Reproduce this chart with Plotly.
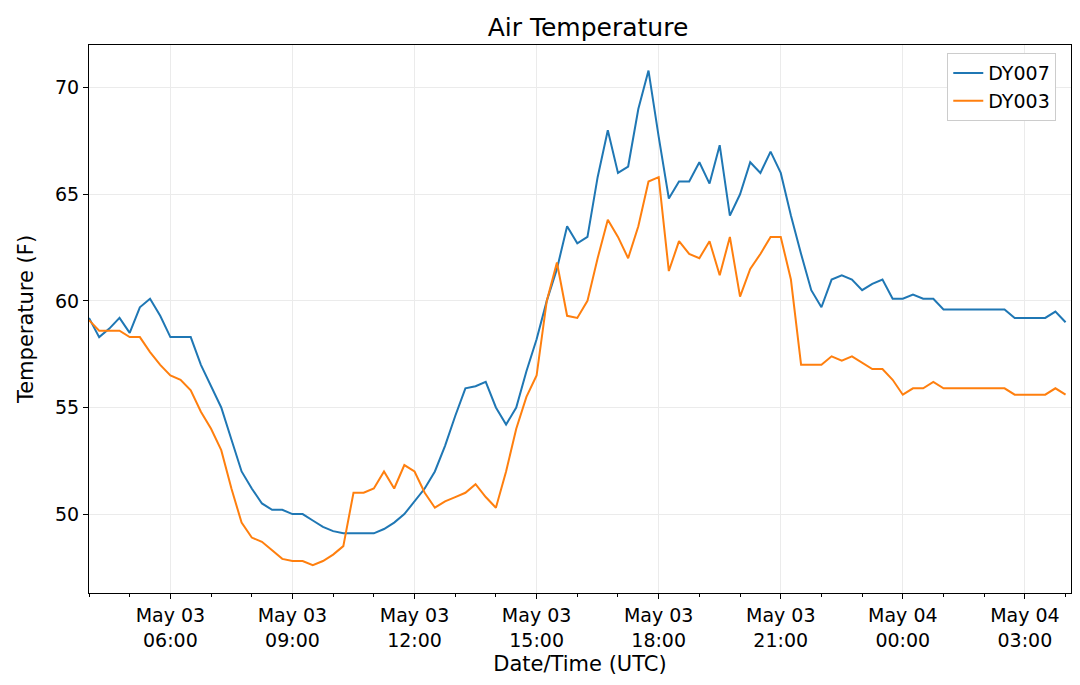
import pandas as pd
import plotly.graph_objects as go

# Readings every 15 minutes from 2019-05-03 04:00 UTC
times = pd.date_range("2019-05-03 04:00", periods=97, freq="15min")

dy007 = [59.2, 58.3, 58.7, 59.2, 58.5, 59.7, 60.1, 59.3, 58.3, 58.3, 58.3, 57.0,
         56.0, 55.0, 53.5, 52.0, 51.2, 50.5, 50.2, 50.2, 50.0, 50.0, 49.7, 49.4,
         49.2, 49.1, 49.1, 49.1, 49.1, 49.3, 49.6, 50.0, 50.6, 51.2, 52.0, 53.2,
         54.6, 55.9, 56.0, 56.2, 55.0, 54.2, 55.0, 56.7, 58.2, 60.0, 61.5, 63.5,
         62.7, 63.0, 65.8, 68.0, 66.0, 66.3, 69.0, 70.8, 67.7, 64.8, 65.6, 65.6,
         66.5, 65.5, 67.3, 64.0, 65.0, 66.5, 66.0, 67.0, 66.0, 64.0, 62.2, 60.5,
         59.7, 61.0, 61.2, 61.0, 60.5, 60.8, 61.0, 60.1, 60.1, 60.3, 60.1, 60.1,
         59.6, 59.6, 59.6, 59.6, 59.6, 59.6, 59.6, 59.2, 59.2, 59.2, 59.2, 59.5,
         59.0]
dy003 = [59.1, 58.6, 58.6, 58.6, 58.3, 58.3, 57.6, 57.0, 56.5, 56.3, 55.8, 54.8,
         54.0, 53.0, 51.2, 49.6, 48.9, 48.7, 48.3, 47.9, 47.8, 47.8, 47.6, 47.8,
         48.1, 48.5, 51.0, 51.0, 51.2, 52.0, 51.2, 52.3, 52.0, 51.0, 50.3, 50.6,
         50.8, 51.0, 51.4, 50.8, 50.3, 52.0, 54.0, 55.5, 56.5, 60.0, 61.8, 59.3,
         59.2, 60.0, 62.0, 63.8, 63.0, 62.0, 63.5, 65.6, 65.8, 61.4, 62.8, 62.2,
         62.0, 62.8, 61.2, 63.0, 60.2, 61.5, 62.2, 63.0, 63.0, 61.0, 57.0, 57.0,
         57.0, 57.4, 57.2, 57.4, 57.1, 56.8, 56.8, 56.3, 55.6, 55.9, 55.9, 56.2,
         55.9, 55.9, 55.9, 55.9, 55.9, 55.9, 55.9, 55.6, 55.6, 55.6, 55.6, 55.9,
         55.6]

tick_times = pd.date_range("2019-05-03 06:00", periods=8, freq="3h")
tick_text = [t.strftime("%b %d<br>%H:%M") for t in tick_times]

fig = go.Figure()
fig.add_trace(go.Scatter(x=times, y=dy007, name="DY007", mode="lines",
                         line=dict(color="#1f77b4", width=2)))
fig.add_trace(go.Scatter(x=times, y=dy003, name="DY003", mode="lines",
                         line=dict(color="#ff7f0e", width=2)))

axis_style = dict(showline=True, linecolor="black", linewidth=1, mirror=True,
                  showgrid=True, gridcolor="#ebebeb", ticks="outside",
                  tickcolor="black", zeroline=False, automargin=False,
                  tickfont=dict(size=19, color="black"))

fig.update_layout(
    width=1080, height=685,
    font=dict(family="DejaVu Sans", color="black"),
    title=dict(text="Air Temperature", x=0.537, y=0.972, xanchor="center",
               yanchor="middle", yref="container", font=dict(size=25)),
    plot_bgcolor="white", paper_bgcolor="white",
    margin=dict(l=81, r=17, t=37, b=100),
    xaxis=dict(axis_style, title=dict(text="Date/Time (UTC)", font=dict(size=21),
                                      standoff=6),
               range=["2019-05-03 04:00", "2019-05-04 04:08"],
               tickvals=tick_times, ticktext=tick_text,
               minor=dict(dtick=3600000, ticks="outside", ticklen=3, tickcolor="black")),
    yaxis=dict(axis_style, title=dict(text="Temperature (F)", font=dict(size=21)),
               range=[46.3, 72.0], dtick=5),
    legend=dict(x=0.985, y=0.985, xanchor="right", yanchor="top",
                bordercolor="#cccccc", borderwidth=1, bgcolor="white",
                font=dict(size=19)),
)

fig.write_html("out.html")
